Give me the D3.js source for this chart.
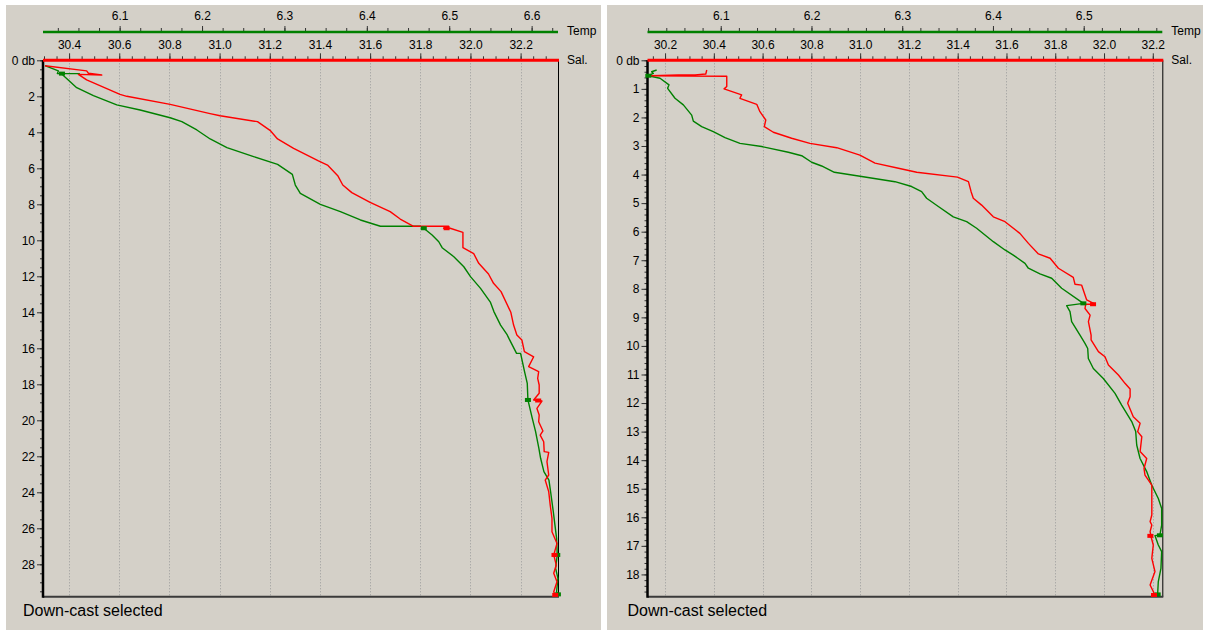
<!DOCTYPE html>
<html><head><meta charset="utf-8">
<script src="https://cdn.jsdelivr.net/npm/d3@7"></script>
<style>
body{margin:0;background:#fff;}
svg{display:block;font-family:Arial,"Liberation Sans",sans-serif;}
</style></head><body>
<svg id="c" width="1206" height="633"></svg>
<script>
// ---------- DATA (depth db, value) ----------
const leftSal = [[0.30,30.304],[0.59,30.470],[0.72,30.477],[0.82,30.530],[0.78,30.437],[1.09,30.470],[1.89,30.603],[2.00,30.630],[2.45,30.803],[2.96,30.962],[3.08,31.002],[3.41,31.151],[3.89,31.201],[4.37,31.231],[4.89,31.295],[5.59,31.394],[5.82,31.430],[6.41,31.471],[6.93,31.491],[7.35,31.527],[7.89,31.600],[8.41,31.680],[8.82,31.720],[9.22,31.773],[9.22,31.913],[9.33,31.893],[9.33,31.919],[9.56,31.970],[10.41,31.970],[10.74,32.013],[11.28,32.033],[11.87,32.072],[12.39,32.092],[12.85,32.122],[14.00,32.161],[14.71,32.172],[15.26,32.185],[15.54,32.205],[16.19,32.215],[16.47,32.252],[17.02,32.232],[17.30,32.272],[17.67,32.268],[18.04,32.274],[18.50,32.274],[18.87,32.252],[18.93,32.285],[19.34,32.265],[19.71,32.274],[20.08,32.272],[20.59,32.289],[20.82,32.278],[21.19,32.292],[21.74,32.294],[21.78,32.312],[22.30,32.305],[23.04,32.312],[23.32,32.298],[23.96,32.312],[24.71,32.318],[25.45,32.325],[26.19,32.325],[26.84,32.345],[27.48,32.332],[28.04,32.342],[28.50,32.332],[28.97,32.345],[29.52,32.332],[29.71,32.338]];
const leftTemp = [[0.30,6.0094],[0.59,6.0256],[0.74,6.0244],[0.74,6.0511],[0.74,6.0300],[0.85,6.0317],[1.52,6.0479],[1.96,6.0682],[2.48,6.0965],[2.76,6.1249],[3.19,6.1613],[3.41,6.1755],[3.87,6.1937],[4.37,6.2099],[4.85,6.2302],[5.35,6.2626],[5.78,6.2917],[6.34,6.3096],[6.93,6.3132],[7.39,6.3193],[8.00,6.3436],[8.41,6.3679],[8.87,6.3922],[9.22,6.4165],[9.22,6.4651],[9.33,6.4691],[9.71,6.4792],[10.08,6.4873],[10.41,6.4914],[10.91,6.5056],[11.47,6.5177],[12.02,6.5258],[12.67,6.5380],[13.45,6.5501],[13.96,6.5542],[14.71,6.5623],[15.26,6.5704],[15.45,6.5724],[16.28,6.5817],[16.28,6.5866],[17.30,6.5914],[17.95,6.5947],[18.87,6.5955],[19.89,6.6008],[20.63,6.6048],[21.56,6.6088],[22.11,6.6109],[22.85,6.6149],[23.32,6.6210],[23.96,6.6230],[25.08,6.6263],[25.82,6.6283],[26.56,6.6303],[27.48,6.6311],[28.22,6.6291],[28.78,6.6319],[29.52,6.6303],[29.67,6.6319]];
const rightSal = [[0.34,30.371],[0.48,30.367],[0.51,30.323],[0.51,30.254],[0.54,30.145],[0.56,30.453],[0.92,30.453],[1.00,30.442],[1.21,30.514],[1.33,30.507],[1.54,30.576],[1.80,30.589],[2.09,30.613],[2.32,30.607],[2.52,30.644],[2.73,30.719],[2.91,30.794],[3.06,30.904],[3.32,30.999],[3.60,31.061],[3.78,31.157],[3.92,31.232],[4.09,31.399],[4.25,31.444],[4.60,31.455],[4.83,31.464],[5.07,31.498],[5.48,31.546],[5.65,31.594],[6.06,31.655],[6.41,31.690],[6.78,31.731],[6.93,31.779],[7.28,31.813],[7.60,31.874],[7.84,31.881],[7.87,31.908],[8.39,31.929],[8.54,31.963],[8.54,31.925],[8.69,31.922],[8.92,31.943],[9.15,31.936],[9.62,31.947],[9.79,31.947],[10.20,31.977],[10.38,32.004],[10.67,32.018],[11.02,32.059],[11.31,32.086],[11.51,32.107],[11.78,32.107],[12.01,32.097],[12.48,32.120],[12.71,32.148],[13.00,32.138],[13.18,32.155],[13.70,32.148],[13.94,32.175],[14.29,32.164],[14.52,32.168],[14.87,32.196],[15.92,32.196],[16.15,32.189],[16.27,32.196],[16.50,32.189],[16.68,32.193],[16.97,32.202],[17.44,32.196],[17.90,32.209],[18.37,32.189],[18.60,32.202],[18.72,32.209]];
const rightTemp = [[0.34,6.0294],[0.40,6.0239],[0.46,6.0257],[0.54,6.0202],[0.63,6.0331],[0.86,6.0430],[0.98,6.0415],[1.33,6.0496],[1.56,6.0588],[1.92,6.0680],[2.13,6.0698],[2.32,6.0790],[2.50,6.0918],[2.71,6.1047],[2.91,6.1212],[3.02,6.1451],[3.22,6.1745],[3.34,6.1892],[3.57,6.2002],[3.70,6.2112],[3.92,6.2252],[4.07,6.2553],[4.25,6.2920],[4.42,6.3104],[4.60,6.3214],[4.83,6.3269],[5.12,6.3398],[5.48,6.3563],[5.65,6.3710],[5.88,6.3820],[6.35,6.4004],[6.64,6.4132],[6.82,6.4224],[7.11,6.4353],[7.28,6.4390],[7.48,6.4518],[7.63,6.4647],[7.98,6.4757],[8.51,6.4996],[8.59,6.4812],[8.80,6.4849],[9.15,6.4867],[9.62,6.4959],[9.91,6.5014],[10.09,6.5044],[10.44,6.5051],[10.79,6.5106],[11.14,6.5216],[11.66,6.5345],[12.07,6.5418],[12.65,6.5529],[13.00,6.5573],[13.47,6.5584],[13.94,6.5621],[14.40,6.5694],[14.87,6.5749],[15.34,6.5822],[15.69,6.5859],[16.27,6.5859],[16.62,6.5840],[16.64,6.5785],[16.97,6.5822],[17.20,6.5859],[17.79,6.5851],[18.25,6.5822],[18.66,6.5815]];
// marker points (depth, value)
const leftSalMarks = [[9.33,31.905],[18.90,32.270],[27.48,32.335],[29.70,32.338]];
const leftTempMarks = [[0.74,6.030],[9.33,6.4691],[18.87,6.5955],[27.48,6.6311],[29.67,6.6319]];
const rightSalMarks = [[8.54,31.955],[16.65,32.190],[18.72,32.205]];
const rightTempMarks = [[0.54,6.0202],[8.51,6.4996],[16.63,6.5840],[18.70,6.5815]];
// tick labels
const leftTempTicks = [6.1,6.2,6.3,6.4,6.5,6.6];
const leftSalTicks = [30.4,30.6,30.8,31.0,31.2,31.4,31.6,31.8,32.0,32.2];
const leftDepthTicks = [0,2,4,6,8,10,12,14,16,18,20,22,24,26,28];
const rightTempTicks = [6.1,6.2,6.3,6.4,6.5];
const rightSalTicks = [30.2,30.4,30.6,30.8,31.0,31.2,31.4,31.6,31.8,32.0,32.2];
const rightDepthTicks = [0,1,2,3,4,5,6,7,8,9,10,11,12,13,14,15,16,17,18];
const footer = "Down-cast selected";

// ---------- LAYOUT ----------
const svg = d3.select("#c");
const panels = [
  {bg:[6,5,595,625], L:43, R:558, top:60.3, bot:596.7,
   salDom:[30.296,32.349], tempDom:[6.007,6.632], depthDom:[0,29.8],
   tempMinor:0.025, salMinor:0.05, depthMinor:0.5, footX:23,
   sal:leftSal, temp:leftTemp, salMarks:leftSalMarks, tempMarks:leftTempMarks,
   tempTicks:leftTempTicks, salTicks:leftSalTicks, depthTicks:leftDepthTicks},
  {bg:[607,5,596,625], L:647.5, R:1162.3, top:60.3, bot:596.7,
   salDom:[30.128,32.239], tempDom:[6.0193,6.5866], depthDom:[0,18.78],
   tempMinor:0.02, salMinor:0.05, depthMinor:0.2, footX:627.5,
   sal:rightSal, temp:rightTemp, salMarks:rightSalMarks, tempMarks:rightTempMarks,
   tempTicks:rightTempTicks, salTicks:rightSalTicks, depthTicks:rightDepthTicks}
];
const RED = "#ff0000", GREEN = "#008000";
const FONT = "Arial, 'Liberation Sans', sans-serif";

function minorVals(dom, step){
  const out=[]; const s=Math.ceil(dom[0]/step-1e-9);
  for(let i=s; i*step<=dom[1]+1e-9; i++) out.push(+(i*step).toFixed(4));
  return out;
}

panels.forEach(p=>{
  const g = svg.append("g");
  g.append("rect").attr("x",p.bg[0]).attr("y",p.bg[1]).attr("width",p.bg[2]).attr("height",p.bg[3]).attr("fill","#d4d0c8");
  const xs = d3.scaleLinear().domain(p.salDom).range([p.L,p.R]);
  const xt = d3.scaleLinear().domain(p.tempDom).range([p.L,p.R]);
  const y = d3.scaleLinear().domain(p.depthDom).range([p.top,p.bot]);

  // grid
  g.append("g").selectAll("line").data(p.salTicks).join("line")
    .attr("x1",d=>Math.round(xs(d))+0.5).attr("x2",d=>Math.round(xs(d))+0.5)
    .attr("y1",p.top).attr("y2",p.bot)
    .attr("stroke","#9a9a9a").attr("stroke-width",1).attr("stroke-dasharray","1,2");

  // temp axis
  const tMinor = g.append("g").attr("transform","translate(0,32)")
    .call(d3.axisTop(xt).tickValues(minorVals(p.tempDom,p.tempMinor)).tickSize(4).tickFormat(""));
  const tMajor = g.append("g").attr("transform","translate(0,32)")
    .call(d3.axisTop(xt).tickValues(p.tempTicks).tickSize(6).tickPadding(6).tickFormat(d3.format(".1f")));
  g.append("line").attr("x1",p.L).attr("x2",p.R).attr("y1",32).attr("y2",32).attr("stroke",GREEN).attr("stroke-width",2.5);
  g.append("text").attr("x",p.R+9).attr("y",35).attr("font-size",12).attr("font-family",FONT).text("Temp");

  // sal axis
  const sMinor = g.append("g").attr("transform",`translate(0,${p.top})`)
    .call(d3.axisTop(xs).tickValues(minorVals(p.salDom,p.salMinor)).tickSize(4).tickFormat(""));
  const sMajor = g.append("g").attr("transform",`translate(0,${p.top})`)
    .call(d3.axisTop(xs).tickValues(p.salTicks).tickSize(7).tickPadding(4).tickFormat(d3.format(".1f")));
  g.append("text").attr("x",p.R+9).attr("y",64).attr("font-size",12).attr("font-family",FONT).text("Sal.");

  // depth axis
  const dMinor = g.append("g").attr("transform",`translate(${p.L},0)`)
    .call(d3.axisLeft(y).tickValues(minorVals(p.depthDom,p.depthMinor)).tickSize(3).tickFormat(""));
  const dMajor = g.append("g").attr("transform",`translate(${p.L},0)`)
    .call(d3.axisLeft(y).tickValues(p.depthTicks).tickSize(6).tickPadding(2).tickFormat(d=>d===0?"0 db":d));

  [tMinor,tMajor,sMinor,sMajor,dMinor,dMajor].forEach(a=>{
    a.attr("font-size",12).attr("font-family",FONT);
    a.select(".domain").remove();
    a.selectAll(".tick line").attr("stroke","#333");
    a.selectAll("text").attr("font-size",12).attr("font-family",FONT).attr("fill","#000");
  });
  tMajor.selectAll(".tick line").attr("y2",-6).attr("y1",1);

  // frame
  g.append("line").attr("x1",p.R+0.5).attr("x2",p.R+0.5).attr("y1",p.top).attr("y2",p.bot).attr("stroke","#000").attr("stroke-width",1);
  g.append("line").attr("x1",p.L).attr("x2",p.R+1).attr("y1",p.bot).attr("y2",p.bot).attr("stroke","#3a3a3a").attr("stroke-width",2);
  g.append("line").attr("x1",p.L).attr("x2",p.L).attr("y1",p.top).attr("y2",p.bot+1).attr("stroke","#000").attr("stroke-width",2.5);
  g.append("line").attr("x1",p.L).attr("x2",p.R+1).attr("y1",p.top).attr("y2",p.top).attr("stroke",RED).attr("stroke-width",3);

  // profiles
  const lt = d3.line().x(d=>xt(d[1])).y(d=>y(d[0]));
  const ls = d3.line().x(d=>xs(d[1])).y(d=>y(d[0]));
  g.append("path").attr("d",lt(p.temp)).attr("fill","none").attr("stroke",GREEN).attr("stroke-width",1.4).attr("stroke-linejoin","round");
  g.append("path").attr("d",ls(p.sal)).attr("fill","none").attr("stroke",RED).attr("stroke-width",1.4).attr("stroke-linejoin","round");
  g.append("g").selectAll("rect").data(p.tempMarks).join("rect")
    .attr("x",d=>xt(d[1])-3).attr("y",d=>y(d[0])-2).attr("width",6).attr("height",4).attr("fill",GREEN);
  g.append("g").selectAll("rect").data(p.salMarks).join("rect")
    .attr("x",d=>xs(d[1])-3).attr("y",d=>y(d[0])-2).attr("width",6).attr("height",4).attr("fill",RED);

  g.append("text").attr("x",p.footX).attr("y",616).attr("font-size",16).attr("font-family",FONT).text(footer);
});
</script>
</body></html>
